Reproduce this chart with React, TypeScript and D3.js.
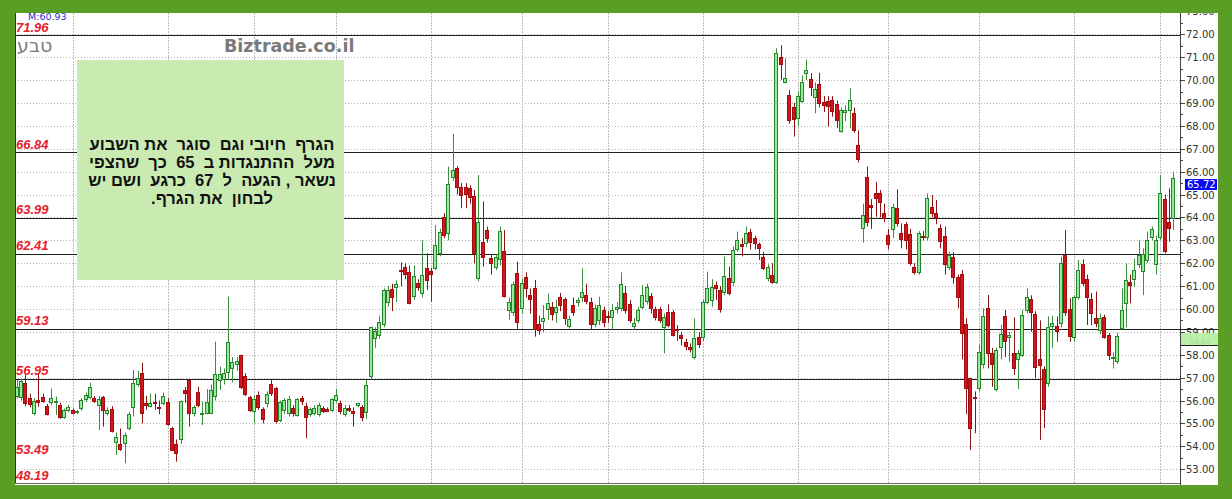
import React from "react";
import * as d3 from "d3";

// [open, high, low, close]
type Candle = [number, number, number, number];

const segA: Candle[] = [
  [56.21, 56.9, 56.09, 56.58], [56.14, 56.95, 56.0, 56.85], [56.75, 57.11, 55.75, 55.91], [56.1, 56.3, 55.7, 55.85],
  [55.44, 56.1, 55.35, 55.99], [56.02, 57.2, 55.73, 55.95], [56.17, 56.3, 55.9, 55.99], [55.76, 55.85, 55.35, 55.41],
  [55.95, 56.53, 55.8, 56.1], [55.95, 56.17, 55.37, 56.0], [55.8, 55.9, 55.2, 55.3], [55.27, 55.65, 55.2, 55.59],
  [55.59, 55.8, 55.5, 55.7], [55.59, 55.65, 55.4, 55.47], [55.51, 55.6, 55.4, 55.56], [55.66, 56.1, 55.55, 56.02],
  [56.07, 56.35, 55.95, 56.24], [56.14, 56.78, 56.05, 56.58], [56.12, 56.2, 55.9, 55.99], [55.79, 56.2, 54.71, 56.07],
  [56.15, 56.2, 54.86, 55.59], [55.47, 55.7, 55.35, 55.59], [55.64, 55.75, 54.6, 54.68], [54.2, 54.6, 53.62, 54.42],
  [54.09, 54.78, 53.8, 53.88], [54.13, 54.6, 53.26, 54.49], [54.78, 55.5, 54.7, 55.41], [55.73, 57.33, 55.3, 56.75],
  [56.72, 57.3, 56.6, 56.97], [57.22, 57.65, 55.0, 55.47], [55.88, 56.2, 55.6, 55.79], [55.76, 56.3, 55.7, 55.9],
  [55.95, 56.3, 55.6, 55.88], [55.73, 56.0, 55.4, 55.69], [55.9, 56.35, 55.8, 56.21], [55.95, 56.1, 54.9, 54.97],
  [54.78, 54.85, 53.8, 53.84], [54.1, 54.3, 53.33, 53.69], [54.3, 56.0, 54.1, 55.98], [56.46, 56.6, 55.9, 56.31],
  [56.9, 56.95, 54.86, 55.47], [55.44, 55.8, 55.3, 55.73], [56.37, 56.6, 55.7, 55.79], [55.44, 55.95, 54.93, 55.44],
  [55.47, 56.5, 55.4, 55.93],
];

const segB: Candle[] = [
  [55.44, 56.7, 55.4, 56.46], [56.18, 58.57, 56.0, 57.16], [56.9, 57.48, 56.46, 57.16], [56.95, 57.4, 56.7, 57.2],
  [57.23, 60.54, 56.9, 58.57], [57.4, 57.9, 56.8, 57.7], [57.6, 57.9, 57.3, 57.74], [57.99, 58.0, 56.5, 56.6],
  [57.07, 57.2, 56.2, 56.28], [56.17, 56.2, 55.5, 55.59], [55.56, 56.2, 55.0, 56.05], [56.24, 56.4, 55.6, 55.73],
  [55.63, 55.7, 55.0, 55.19], [55.88, 56.4, 55.7, 56.27], [56.72, 56.92, 56.2, 56.31], [56.53, 56.6, 55.0, 55.12],
  [55.15, 56.0, 55.05, 55.92], [55.59, 56.1, 55.4, 56.02], [55.44, 56.2, 55.3, 56.07], [55.66, 55.8, 55.3, 55.44],
  [55.37, 56.1, 55.3, 56.05], [56.1, 56.2, 55.8, 55.99], [55.76, 55.9, 54.35, 55.3], [55.41, 55.7, 55.3, 55.62],
  [55.44, 55.8, 55.35, 55.66], [55.41, 55.9, 55.3, 55.8], [55.66, 55.75, 55.45, 55.56], [55.63, 55.7, 55.5, 55.56],
  [55.59, 56.1, 55.5, 56.08], [56.02, 56.5, 55.9, 56.24], [55.9, 56.0, 55.4, 55.56], [55.41, 55.8, 55.3, 55.66],
  [55.66, 55.8, 55.5, 55.59], [55.56, 55.7, 54.86, 55.47], [55.8, 55.9, 55.7, 55.88], [55.73, 55.8, 55.1, 55.27],
  [55.51, 56.9, 55.2, 56.68], [57.07, 59.23, 56.9, 59.23], [58.72, 59.2, 58.3, 59.05], [58.86, 59.7, 58.7, 59.45],
  [59.35, 60.9, 59.2, 60.83], [60.32, 61.0, 60.1, 60.83], [60.86, 61.1, 59.9, 60.54], [60.98, 61.25, 60.3, 61.08],
  [61.7, 62.04, 60.98, 61.64],
];

const segC: Candle[] = [
  [61.82, 62.0, 61.3, 61.53], [61.63, 61.9, 60.2, 60.28], [60.57, 61.9, 60.4, 61.44], [61.15, 61.3, 60.8, 60.98],
  [60.71, 63.0, 60.5, 61.49], [61.78, 62.43, 60.83, 61.27], [61.67, 61.8, 60.32, 61.53], [61.78, 63.67, 61.7, 62.8],
  [62.46, 63.5, 62.3, 63.38], [64.0, 64.18, 63.09, 63.23], [63.31, 66.22, 63.0, 65.46], [65.78, 67.65, 65.6, 66.07],
  [66.17, 66.25, 65.0, 65.31], [65.31, 65.5, 64.4, 64.98], [65.34, 65.5, 64.4, 65.02], [65.27, 65.4, 64.6, 64.88],
  [64.94, 65.2, 62.0, 62.46], [61.34, 65.85, 61.2, 63.82], [62.91, 64.7, 61.85, 62.29], [63.45, 63.6, 62.9, 63.09],
  [62.21, 62.4, 61.5, 61.99], [61.85, 62.4, 61.7, 62.26], [62.17, 63.6, 61.9, 63.41], [62.53, 63.45, 60.5, 60.58],
  [59.96, 60.5, 59.52, 60.32], [59.88, 61.2, 59.7, 61.08], [61.56, 62.07, 59.11, 59.45], [60.03, 61.3, 59.8, 61.15],
  [61.41, 61.6, 60.5, 60.9], [60.61, 60.9, 59.8, 60.44], [60.9, 61.27, 58.79, 59.11], [59.35, 59.7, 58.87, 59.08],
  [59.48, 60.17, 59.0, 59.6], [59.99, 60.68, 59.52, 60.28], [60.07, 60.3, 59.5, 59.77], [59.88, 60.4, 59.4, 60.07],
  [60.51, 60.7, 59.9, 60.17], [60.42, 60.5, 59.3, 59.59], [59.27, 59.7, 59.15, 59.55], [60.16, 60.5, 59.7, 59.86],
  [60.32, 60.5, 60.1, 60.39], [60.54, 61.78, 60.3, 60.74], [60.61, 61.1, 60.2, 60.37], [60.32, 60.5, 59.1, 59.33],
  [59.33, 60.2, 59.2, 60.06],
];

const segD: Candle[] = [
  [59.52, 60.54, 59.3, 60.17], [59.96, 60.1, 59.2, 59.45], [59.7, 59.9, 59.4, 59.67], [59.67, 60.2, 59.1, 59.96],
  [59.99, 60.3, 59.8, 60.1], [60.03, 61.6, 59.9, 61.08], [60.69, 61.0, 59.8, 59.96], [60.22, 60.4, 59.4, 59.52],
  [59.26, 59.6, 59.1, 59.4], [59.52, 60.1, 59.4, 59.96], [60.1, 61.05, 60.0, 60.61], [60.37, 61.1, 60.2, 60.95],
  [60.58, 60.7, 59.8, 60.03], [59.99, 60.1, 59.5, 59.67], [59.99, 60.1, 59.4, 59.52], [59.23, 59.8, 58.06, 59.67],
  [59.88, 60.2, 59.2, 59.3], [59.86, 59.95, 58.8, 58.86], [59.12, 59.3, 58.6, 59.08], [58.87, 59.0, 58.4, 58.72],
  [58.54, 58.7, 58.2, 58.39], [58.33, 58.5, 58.1, 58.24], [57.92, 59.59, 57.8, 58.72], [58.79, 59.0, 58.3, 58.46],
  [58.76, 60.4, 58.6, 60.32], [60.32, 61.63, 60.2, 60.9], [60.39, 61.3, 60.1, 60.97], [61.05, 61.2, 60.4, 60.9],
  [60.83, 61.0, 59.84, 60.02], [60.76, 62.3, 60.6, 61.44], [61.34, 61.85, 60.6, 60.69], [61.17, 62.73, 61.0, 62.58],
  [62.62, 63.38, 62.5, 63.02], [62.84, 63.1, 62.3, 62.75], [62.87, 63.6, 62.7, 63.34], [63.35, 63.5, 62.6, 62.91],
  [63.09, 63.2, 62.6, 62.9], [62.83, 62.9, 62.14, 62.65], [62.29, 62.5, 61.7, 61.81], [61.34, 61.95, 61.2, 61.85],
  [61.49, 62.0, 61.1, 61.2], [61.2, 71.39, 61.1, 71.2], [71.02, 71.53, 70.0, 70.69], [69.93, 70.95, 69.85, 70.1],
  [69.35, 69.57, 68.1, 68.26],
];

const segE: Candle[] = [
  [68.84, 69.0, 67.53, 68.29], [68.33, 69.5, 68.0, 69.32], [69.1, 70.2, 69.0, 69.93], [70.3, 70.9, 70.0, 70.44],
  [70.03, 70.3, 69.3, 69.68], [69.28, 69.9, 68.55, 69.61], [69.83, 70.32, 68.8, 69.01], [69.06, 69.3, 68.6, 68.91],
  [69.1, 69.3, 67.97, 68.87], [69.13, 69.3, 68.4, 68.66], [68.94, 69.1, 67.9, 68.26], [67.79, 68.8, 67.7, 68.69],
  [68.6, 68.9, 68.2, 68.69], [68.69, 69.64, 67.9, 69.13], [68.58, 68.8, 67.7, 67.82], [67.17, 67.8, 66.4, 66.54],
  [63.55, 64.6, 62.9, 64.11], [65.75, 66.22, 63.6, 63.82], [64.54, 64.8, 63.5, 64.47], [65.05, 65.56, 64.03, 64.83],
  [65.05, 65.2, 64.0, 64.69], [64.21, 64.6, 63.8, 63.96], [63.23, 63.5, 62.6, 62.84], [63.48, 64.6, 63.1, 64.47],
  [64.4, 65.23, 63.6, 63.74], [63.31, 63.74, 62.65, 63.04], [63.7, 63.8, 62.6, 63.0], [63.28, 63.5, 61.9, 62.02],
  [61.82, 62.0, 61.5, 61.63], [61.63, 63.4, 61.5, 63.31], [63.17, 63.4, 63.0, 63.15], [63.13, 65.05, 63.0, 64.83],
  [64.47, 64.98, 64.0, 64.18], [64.21, 64.76, 63.7, 64.0], [63.52, 63.7, 62.65, 62.99], [63.19, 63.6, 61.5, 61.97],
  [61.85, 62.5, 61.7, 62.36], [62.29, 62.5, 61.1, 61.41], [61.38, 61.5, 60.03, 60.54], [61.53, 61.7, 57.8, 58.97],
  [59.35, 59.6, 55.4, 56.54], [56.97, 57.0, 53.84, 54.79], [56.16, 56.4, 54.57, 56.12], [56.54, 58.43, 56.4, 58.14],
  [57.6, 60.03, 57.4, 59.71],
];

const segF: Candle[] = [
  [60.06, 60.61, 57.4, 58.06], [58.06, 58.3, 56.6, 57.6], [56.49, 58.3, 56.4, 58.21], [58.36, 59.3, 57.8, 58.91],
  [59.71, 59.96, 57.9, 58.62], [58.79, 59.0, 57.7, 58.86], [58.09, 59.64, 57.12, 57.4], [57.8, 58.2, 56.5, 58.06],
  [57.99, 59.96, 57.9, 59.74], [59.96, 60.9, 59.8, 60.54], [60.42, 60.6, 59.0, 59.86], [59.77, 59.9, 56.97, 57.48],
  [57.8, 59.5, 54.28, 57.55], [57.37, 57.5, 54.79, 55.62], [56.78, 59.67, 56.6, 59.23], [59.26, 59.7, 58.3, 59.37],
  [59.27, 59.67, 58.57, 59.05], [59.37, 62.29, 59.2, 62.02], [62.36, 63.45, 59.7, 59.88], [59.99, 60.47, 58.57, 58.84],
  [58.79, 60.6, 58.57, 60.51], [60.51, 62.14, 60.4, 61.7], [61.97, 62.17, 61.0, 61.12], [61.31, 61.5, 59.3, 60.54],
  [60.42, 60.7, 59.3, 59.81], [59.62, 60.76, 59.2, 59.4], [59.08, 59.8, 58.9, 59.59], [59.67, 59.75, 58.7, 58.79],
  [58.87, 58.95, 57.77, 57.99], [57.85, 58.1, 57.4, 57.9], [57.74, 58.95, 57.6, 58.82], [59.16, 60.9, 59.1, 59.96],
  [60.28, 61.99, 59.2, 61.27], [61.2, 61.5, 60.25, 61.05], [61.3, 62.2, 60.97, 61.7], [61.97, 63.0, 61.8, 62.36],
  [61.66, 62.65, 60.6, 62.39], [62.14, 63.38, 62.0, 63.0], [63.16, 63.6, 63.0, 63.48], [61.95, 63.2, 61.5, 63.0],
  [63.13, 65.85, 63.0, 65.05], [64.79, 65.0, 62.43, 62.55], [63.8, 65.27, 62.94, 63.52], [63.96, 66.0, 63.45, 65.71],
];

const candles: Candle[] = [...segA, ...segB, ...segC, ...segD, ...segE, ...segF];

const priceTicks = [53, 54, 55, 56, 57, 58, 59, 60, 61, 62, 63, 64, 65, 66, 67, 68, 69, 70, 71, 72, 73];
const levelLines = [71.96, 66.84, 63.99, 62.41, 59.13, 56.95];
const levelLabels = [71.96, 66.84, 63.99, 62.41, 59.13, 56.95, 53.49, 48.19];
// index of first session of every month (vertical grid)
const monthStarts = [13, 35, 55, 74, 96, 117, 137, 159, 181, 202, 223, 245, 265];
const noteLines = [
  "הגרף  חיובי וגם  סוגר  את השבוע",
  "מעל  ההתנגדות ב  65  כך  שהצפי",
  "נשאר , הגעה  ל  67  כרגע  ושם יש",
  "לבחון  את הגרף.",
];
const lastPrice = 65.72;
const maPrice = 58.64;
const maLabel = "M:60.93";
const symbolName = "טבע";
const siteName = "Biztrade.co.il";

const W = 1232;
const H = 499;
const PL = 15, PT = 13, PR = 1180, PB = 483;

const GREEN_BG = "#5a9e26";
const AXIS_FONT = "DejaVu Sans, Verdana, sans-serif";

export default function App() {
  const y = d3.scaleLinear().domain([53, 72]).range([469.2, 34.3]);
  const x = d3.scaleLinear().domain([0, candles.length - 1]).range([16.7, 1173.3]);
  const fmt = d3.format(".2f");
  const crisp = (v: number) => Math.round(v) + 0.5;

  return (
    <div style={{ position: "fixed", left: 0, top: 0 }}>
      <svg width={W} height={H} style={{ display: "block" }}>
        <defs>
          <clipPath id="plot">
            <rect x={PL} y={PT} width={PR - PL} height={PB - PT} />
          </clipPath>
          <clipPath id="white">
            <rect x={PL} y={PT} width={1218 - PL} height={485 - PT} />
          </clipPath>
        </defs>
        <rect width={W} height={H} fill={GREEN_BG} />
        <rect x={PL} y={PT} width={1218 - PL} height={485 - PT} fill="#fff" />

        <g clipPath="url(#plot)">
          {/* horizontal grid */}
          {priceTicks.map((p) => (
            <line key={"h" + p} x1={PL} x2={PR} y1={crisp(y(p))} y2={crisp(y(p))}
              stroke="#b4b4b4" strokeDasharray="1,2" />
          ))}
          {/* vertical grid at month starts */}
          {monthStarts.map((i) => (
            <line key={"v" + i} x1={crisp(x(i))} x2={crisp(x(i))} y1={PT} y2={PB}
              stroke="#bdbdbd" strokeDasharray="2,1" />
          ))}
          {/* support / resistance levels */}
          {levelLines.map((p) => (
            <line key={"l" + p} x1={PL} x2={PR} y1={crisp(y(p))} y2={crisp(y(p))}
              stroke="#1e1e1e" strokeWidth={1} />
          ))}
          {/* candles */}
          {candles.map(([o, h, l, c], i) => {
            const up = c >= o;
            const px = Math.round(x(i));
            const yt = Math.round(y(Math.max(o, c)));
            const yb = Math.round(y(Math.min(o, c)));
            return (
              <g key={"c" + i}>
                <line x1={px + 0.5} x2={px + 0.5} y1={y(h)} y2={y(l)}
                  stroke={up ? "#3b8f3b" : "#8c1414"} strokeWidth={1} />
                <rect x={px - 1.5} y={yt + 0.5} width={3} height={Math.max(1, yb - yt)}
                  fill={up ? "#9ae89a" : "#d0161a"} stroke={up ? "#23862a" : "#a00c10"} strokeWidth={1} />
              </g>
            );
          })}
        </g>

        {/* plot frame */}
        <line x1={PL + 0.5} x2={PL + 0.5} y1={PT} y2={PB} stroke="#333" />
        <line x1={PL} x2={PR} y1={PB + 0.5} y2={PB + 0.5} stroke="#666" />

        {/* left red level labels */}
        {levelLabels.map((p) => (
          <text key={"ll" + p} x={16} y={Math.min(y(p) - 3.5, PB - 3)} fill="#e5202a"
            fontFamily="Liberation Sans, Arial, sans-serif" fontStyle="italic" fontWeight="bold" fontSize={13}>
            {fmt(p)}
          </text>
        ))}

        <text x={28} y={19.5} fill="#2b2bd6" fontFamily={AXIS_FONT} fontSize={9.5}>
          {maLabel}
        </text>
        <text x={17} y={52} fill="#7b7b7b" fontFamily="DejaVu Sans, sans-serif" fontSize={19}>
          {symbolName}
        </text>
        <text x={224} y={52} fill="#7a7a7a" fontFamily={AXIS_FONT} fontWeight="bold" fontSize={17.5}>
          {siteName}
        </text>

        {/* note box */}
        <rect x={77} y={60} width={267} height={220} fill="#c9eab1" />
        {noteLines.map((t, i) => (
          <text key={"n" + i} x={212} y={150 + i * 18} textAnchor="middle" direction="rtl"
            style={{ whiteSpace: "pre" }}
            fontFamily="Liberation Sans, Arial, DejaVu Sans, sans-serif" fontWeight="bold" fontSize={16.5} fill="#111">
            {t}
          </text>
        ))}

        {/* right axis */}
        <g clipPath="url(#white)">
          <line x1={PR + 0.5} x2={PR + 0.5} y1={PT} y2={485} stroke="#444" />
          {priceTicks.map((p) => (
            <g key={"t" + p}>
              <line x1={PR} x2={PR + 5} y1={crisp(y(p))} y2={crisp(y(p))} stroke="#444" />
              <line x1={PR} x2={PR + 3} y1={crisp(y(p + 0.5))} y2={crisp(y(p + 0.5))} stroke="#444" />
              <text x={1186} y={y(p) + 4} fill="#333" fontFamily={AXIS_FONT} fontSize={10}>
                {fmt(p)}
              </text>
            </g>
          ))}
          {/* moving average marker */}
          <line x1={PR} x2={1218} y1={crisp(y(59.13))} y2={crisp(y(59.13))} stroke="#1e1e1e" />
          <rect x={PR + 1} y={y(maPrice) - 7} width={1218 - PR - 1} height={12} fill="#b9f0a9" />
          <line x1={PR} x2={1218} y1={crisp(y(maPrice) + 5)} y2={crisp(y(maPrice) + 5)} stroke="#1e1e1e" />
          <text x={1190} y={y(maPrice) + 3.5} fill="#a3dd96" fontFamily={AXIS_FONT} fontSize={7}>
            {fmt(maPrice)}
          </text>
          {/* last price */}
          <rect x={1185} y={y(lastPrice) + 1} width={32} height={11} fill="#0a0af0" />
          <text x={1187} y={y(lastPrice) + 10} fill="#fff" fontFamily={AXIS_FONT} fontSize={10}>
            {fmt(lastPrice)}
          </text>
        </g>
      </svg>
    </div>
  );
}
